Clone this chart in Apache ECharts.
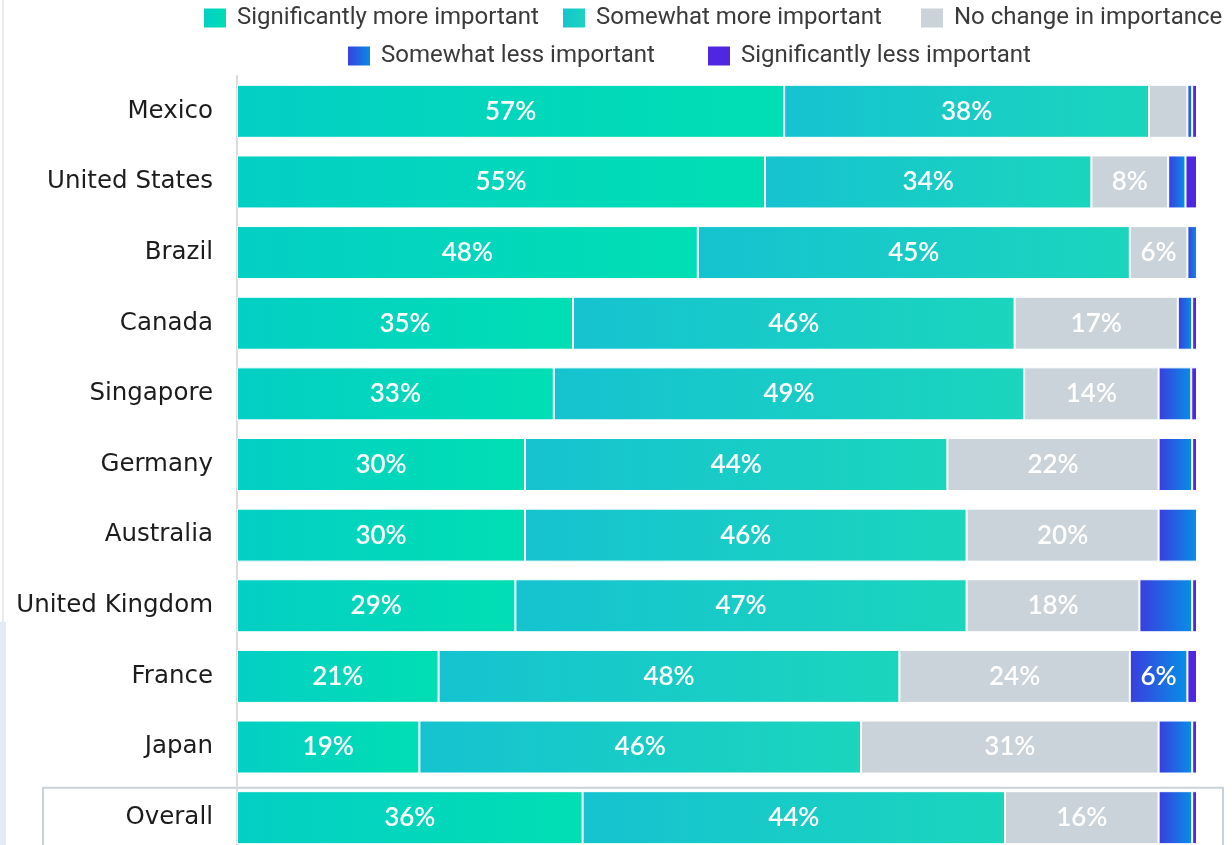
<!DOCTYPE html>
<html>
<head>
<meta charset="utf-8">
<script src="https://cdn.jsdelivr.net/npm/echarts@6/dist/echarts.min.js"></script>
<style>
  html, body { margin: 0; padding: 0; background: #ffffff; overflow: hidden; }
  /* the last row runs past the bottom edge of the window */
  #chart { width: 1232px; height: 860px; }
</style>
</head>
<body>
<div id="chart"></div>
<script>
// Countries, top to bottom
const categories = ['Mexico', 'United States', 'Brazil', 'Canada', 'Singapore', 'Germany',
  'Australia', 'United Kingdom', 'France', 'Japan', 'Overall'];

// Share of respondents (%) per answer
const sigMore  = [57, 55, 48, 35, 33, 30, 30, 29, 21, 19, 36];
const someMore = [38, 34, 45, 46, 49, 44, 46, 47, 48, 46, 44];
const noChange = [4, 8, 6, 17, 14, 22, 20, 18, 24, 31, 16];
const someLess = [0.5, 1.8, 1, 1.5, 3.4, 3.5, 4, 5.5, 6, 3.5, 3.5];
const sigLess  = [0.5, 1.2, 0, 0.5, 0.6, 0.5, 0, 0.5, 1, 0.5, 0.5];

const seriesNames = ['Significantly more important', 'Somewhat more important',
  'No change in importance', 'Somewhat less important', 'Significantly less important'];

const grad = (a, b) => new echarts.graphic.LinearGradient(0, 0, 1, 0, [
  { offset: 0, color: a }, { offset: 1, color: b }
]);

const fills = [
  grad('#04cfc4', '#00deb3'),
  grad('#15c3d0', '#1bd5bd'),
  '#c9d3d9',
  grad('#3a3ddf', '#078fe6'),
  '#5027e0'
];

const labelStyle = {
  show: true,
  position: 'inside',
  color: '#ffffff',
  fontFamily: 'Lato, sans-serif',
  fontWeight: 600,
  fontSize: 26,
  formatter: p => (p.value >= 6 ? p.value + '%' : '')
};

const makeSeries = (name, data, fill) => ({
  name: name,
  type: 'bar',
  stack: 'total',
  data: data,
  barWidth: 53,
  itemStyle: { color: fill, borderColor: '#ffffff', borderWidth: 1 },
  label: labelStyle,
  emphasis: { disabled: true }
});

// One legend entry per component so each key sits where it belongs
const legendSpots = [
  { left: 202, top: 6 }, { left: 561, top: 6 }, { left: 919, top: 6 },
  { left: 346, top: 44 }, { left: 706, top: 44 }
];
const legends = seriesNames.map((name, i) => ({
  data: [name],
  left: legendSpots[i].left,
  top: legendSpots[i].top,
  padding: 0,
  itemWidth: 24,
  itemHeight: 21,
  icon: 'rect',
  selectedMode: false,
  textStyle: { color: '#3a3a3a', fontFamily: 'Roboto, sans-serif', fontSize: 24, padding: [0, 0, 0, 5] }
}));

const chart = echarts.init(document.getElementById('chart'), null, { renderer: 'canvas' });

chart.setOption({
  animation: false,
  backgroundColor: '#ffffff',
  legend: legends,
  grid: { left: 237, right: 35, top: 76, bottom: 7, containLabel: false },
  xAxis: {
    type: 'value', min: 0, max: 100, show: false
  },
  yAxis: {
    type: 'category',
    data: categories,
    inverse: true,
    axisLine: { show: true, lineStyle: { color: '#dcdcdc', width: 2 } },
    axisTick: { show: false },
    axisLabel: {
      margin: 24,
      color: '#1c1c1c',
      fontFamily: '"DejaVu Sans", sans-serif',
      fontSize: 24.5
    }
  },
  series: [
    makeSeries(seriesNames[0], sigMore, fills[0]),
    makeSeries(seriesNames[1], someMore, fills[1]),
    makeSeries(seriesNames[2], noChange, fills[2]),
    makeSeries(seriesNames[3], someLess, fills[3]),
    makeSeries(seriesNames[4], sigLess, fills[4])
  ]
});

// Frame around the "Overall" row, plus the thin page edge on the left
const overallY = chart.convertToPixel({ yAxisIndex: 0 }, 'Overall');
chart.setOption({
  graphic: [
    {
      type: 'rect', z: 0,
      shape: { x: 43, y: overallY - 30, width: 1180, height: 90 },
      style: { fill: 'none', stroke: '#c9d2d8', lineWidth: 2 }
    },
    {
      type: 'rect', z: 0,
      shape: { x: 2, y: 0, width: 2, height: 622 },
      style: { fill: '#e9ecef' }
    },
    {
      type: 'rect', z: 0,
      shape: { x: 0, y: 622, width: 6, height: 240 },
      style: { fill: '#e4ecf3' }
    }
  ]
});
</script>
</body>
</html>
